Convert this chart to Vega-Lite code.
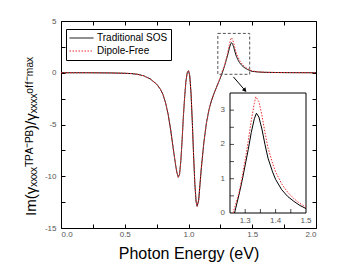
{
  "$schema": "https://vega.github.io/schema/vega-lite/v6.json",
  "width": 255,
  "height": 207,
  "autosize": "none",
  "padding": {"left": 61, "top": 21, "right": 23, "bottom": 44},
  "background": "white",
  "config": {
    "view": {"stroke": null},
    "font": "Liberation Sans",
    "axis": {
      "grid": false,
      "domainColor": "black",
      "domainWidth": 1,
      "tickColor": "black",
      "tickSize": -4,
      "labelFont": "Liberation Sans",
      "labelFontSize": 8,
      "labelColor": "#555555",
      "titleFont": "Liberation Sans",
      "titleFontWeight": "normal",
      "titleColor": "black"
    }
  },
  "datasets": {
    "curves": [
      {"E": 0.0, "v": 0, "s": "Traditional SOS"},
      {"E": 0.2, "v": 0, "s": "Traditional SOS"},
      {"E": 0.4, "v": -0.02, "s": "Traditional SOS"},
      {"E": 0.5, "v": -0.05, "s": "Traditional SOS"},
      {"E": 0.55, "v": -0.08, "s": "Traditional SOS"},
      {"E": 0.6, "v": -0.15, "s": "Traditional SOS"},
      {"E": 0.65, "v": -0.3, "s": "Traditional SOS"},
      {"E": 0.7, "v": -0.6, "s": "Traditional SOS"},
      {"E": 0.75, "v": -1.1, "s": "Traditional SOS"},
      {"E": 0.78, "v": -1.6, "s": "Traditional SOS"},
      {"E": 0.8, "v": -2.1, "s": "Traditional SOS"},
      {"E": 0.82, "v": -2.9, "s": "Traditional SOS"},
      {"E": 0.84, "v": -4.0, "s": "Traditional SOS"},
      {"E": 0.86, "v": -5.5, "s": "Traditional SOS"},
      {"E": 0.88, "v": -7.3, "s": "Traditional SOS"},
      {"E": 0.9, "v": -9.0, "s": "Traditional SOS"},
      {"E": 0.91, "v": -9.7, "s": "Traditional SOS"},
      {"E": 0.92, "v": -10.1, "s": "Traditional SOS"},
      {"E": 0.93, "v": -9.8, "s": "Traditional SOS"},
      {"E": 0.94, "v": -8.5, "s": "Traditional SOS"},
      {"E": 0.95, "v": -6.5, "s": "Traditional SOS"},
      {"E": 0.96, "v": -4.2, "s": "Traditional SOS"},
      {"E": 0.97, "v": -2.3, "s": "Traditional SOS"},
      {"E": 0.98, "v": -0.8, "s": "Traditional SOS"},
      {"E": 0.99, "v": 0.0, "s": "Traditional SOS"},
      {"E": 1.0, "v": 0.2, "s": "Traditional SOS"},
      {"E": 1.01, "v": -0.3, "s": "Traditional SOS"},
      {"E": 1.02, "v": -2.0, "s": "Traditional SOS"},
      {"E": 1.03, "v": -4.8, "s": "Traditional SOS"},
      {"E": 1.04, "v": -8.0, "s": "Traditional SOS"},
      {"E": 1.05, "v": -10.8, "s": "Traditional SOS"},
      {"E": 1.06, "v": -12.5, "s": "Traditional SOS"},
      {"E": 1.068, "v": -12.9, "s": "Traditional SOS"},
      {"E": 1.08, "v": -12.3, "s": "Traditional SOS"},
      {"E": 1.09, "v": -10.8, "s": "Traditional SOS"},
      {"E": 1.1, "v": -9.3, "s": "Traditional SOS"},
      {"E": 1.12, "v": -6.8, "s": "Traditional SOS"},
      {"E": 1.14, "v": -4.9, "s": "Traditional SOS"},
      {"E": 1.16, "v": -3.6, "s": "Traditional SOS"},
      {"E": 1.18, "v": -2.7, "s": "Traditional SOS"},
      {"E": 1.2, "v": -2.0, "s": "Traditional SOS"},
      {"E": 1.22, "v": -1.4, "s": "Traditional SOS"},
      {"E": 1.24, "v": -0.8, "s": "Traditional SOS"},
      {"E": 1.25, "v": -0.5, "s": "Traditional SOS"},
      {"E": 1.265, "v": 0, "s": "Traditional SOS"},
      {"E": 1.28, "v": 0.55, "s": "Traditional SOS"},
      {"E": 1.29, "v": 0.95, "s": "Traditional SOS"},
      {"E": 1.3, "v": 1.4, "s": "Traditional SOS"},
      {"E": 1.31, "v": 1.85, "s": "Traditional SOS"},
      {"E": 1.32, "v": 2.35, "s": "Traditional SOS"},
      {"E": 1.33, "v": 2.75, "s": "Traditional SOS"},
      {"E": 1.337, "v": 2.91, "s": "Traditional SOS"},
      {"E": 1.345, "v": 2.8, "s": "Traditional SOS"},
      {"E": 1.355, "v": 2.45, "s": "Traditional SOS"},
      {"E": 1.365, "v": 2.0, "s": "Traditional SOS"},
      {"E": 1.375, "v": 1.6, "s": "Traditional SOS"},
      {"E": 1.39, "v": 1.2, "s": "Traditional SOS"},
      {"E": 1.4, "v": 0.98, "s": "Traditional SOS"},
      {"E": 1.42, "v": 0.68, "s": "Traditional SOS"},
      {"E": 1.44, "v": 0.48, "s": "Traditional SOS"},
      {"E": 1.46, "v": 0.34, "s": "Traditional SOS"},
      {"E": 1.48, "v": 0.22, "s": "Traditional SOS"},
      {"E": 1.5, "v": 0.13, "s": "Traditional SOS"},
      {"E": 1.55, "v": 0.07, "s": "Traditional SOS"},
      {"E": 1.6, "v": 0.04, "s": "Traditional SOS"},
      {"E": 1.7, "v": 0.02, "s": "Traditional SOS"},
      {"E": 1.8, "v": 0.01, "s": "Traditional SOS"},
      {"E": 2.0, "v": 0.0, "s": "Traditional SOS"},
      {"E": 0.0, "v": 0, "s": "Dipole-Free"},
      {"E": 0.2, "v": 0, "s": "Dipole-Free"},
      {"E": 0.4, "v": -0.02, "s": "Dipole-Free"},
      {"E": 0.5, "v": -0.05, "s": "Dipole-Free"},
      {"E": 0.55, "v": -0.08, "s": "Dipole-Free"},
      {"E": 0.6, "v": -0.15, "s": "Dipole-Free"},
      {"E": 0.65, "v": -0.3, "s": "Dipole-Free"},
      {"E": 0.7, "v": -0.6, "s": "Dipole-Free"},
      {"E": 0.75, "v": -1.1, "s": "Dipole-Free"},
      {"E": 0.78, "v": -1.6, "s": "Dipole-Free"},
      {"E": 0.8, "v": -2.1, "s": "Dipole-Free"},
      {"E": 0.82, "v": -2.9, "s": "Dipole-Free"},
      {"E": 0.84, "v": -4.0, "s": "Dipole-Free"},
      {"E": 0.86, "v": -5.5, "s": "Dipole-Free"},
      {"E": 0.88, "v": -7.3, "s": "Dipole-Free"},
      {"E": 0.9, "v": -9.0, "s": "Dipole-Free"},
      {"E": 0.91, "v": -9.7, "s": "Dipole-Free"},
      {"E": 0.92, "v": -10.1, "s": "Dipole-Free"},
      {"E": 0.93, "v": -9.8, "s": "Dipole-Free"},
      {"E": 0.94, "v": -8.5, "s": "Dipole-Free"},
      {"E": 0.95, "v": -6.5, "s": "Dipole-Free"},
      {"E": 0.96, "v": -4.2, "s": "Dipole-Free"},
      {"E": 0.97, "v": -2.3, "s": "Dipole-Free"},
      {"E": 0.98, "v": -0.8, "s": "Dipole-Free"},
      {"E": 0.99, "v": 0.0, "s": "Dipole-Free"},
      {"E": 1.0, "v": 0.2, "s": "Dipole-Free"},
      {"E": 1.01, "v": -0.3, "s": "Dipole-Free"},
      {"E": 1.02, "v": -2.0, "s": "Dipole-Free"},
      {"E": 1.03, "v": -4.8, "s": "Dipole-Free"},
      {"E": 1.04, "v": -8.0, "s": "Dipole-Free"},
      {"E": 1.05, "v": -10.8, "s": "Dipole-Free"},
      {"E": 1.06, "v": -12.5, "s": "Dipole-Free"},
      {"E": 1.068, "v": -12.9, "s": "Dipole-Free"},
      {"E": 1.08, "v": -12.3, "s": "Dipole-Free"},
      {"E": 1.09, "v": -10.8, "s": "Dipole-Free"},
      {"E": 1.1, "v": -9.3, "s": "Dipole-Free"},
      {"E": 1.12, "v": -6.8, "s": "Dipole-Free"},
      {"E": 1.14, "v": -4.9, "s": "Dipole-Free"},
      {"E": 1.16, "v": -3.6, "s": "Dipole-Free"},
      {"E": 1.18, "v": -2.7, "s": "Dipole-Free"},
      {"E": 1.2, "v": -2.0, "s": "Dipole-Free"},
      {"E": 1.22, "v": -1.4, "s": "Dipole-Free"},
      {"E": 1.24, "v": -0.75, "s": "Dipole-Free"},
      {"E": 1.25, "v": -0.4, "s": "Dipole-Free"},
      {"E": 1.26, "v": 0, "s": "Dipole-Free"},
      {"E": 1.28, "v": 0.6, "s": "Dipole-Free"},
      {"E": 1.29, "v": 1.05, "s": "Dipole-Free"},
      {"E": 1.3, "v": 1.55, "s": "Dipole-Free"},
      {"E": 1.31, "v": 2.1, "s": "Dipole-Free"},
      {"E": 1.32, "v": 2.7, "s": "Dipole-Free"},
      {"E": 1.33, "v": 3.2, "s": "Dipole-Free"},
      {"E": 1.335, "v": 3.39, "s": "Dipole-Free"},
      {"E": 1.345, "v": 3.25, "s": "Dipole-Free"},
      {"E": 1.355, "v": 2.85, "s": "Dipole-Free"},
      {"E": 1.365, "v": 2.35, "s": "Dipole-Free"},
      {"E": 1.375, "v": 1.9, "s": "Dipole-Free"},
      {"E": 1.39, "v": 1.45, "s": "Dipole-Free"},
      {"E": 1.4, "v": 1.2, "s": "Dipole-Free"},
      {"E": 1.42, "v": 0.85, "s": "Dipole-Free"},
      {"E": 1.44, "v": 0.6, "s": "Dipole-Free"},
      {"E": 1.46, "v": 0.42, "s": "Dipole-Free"},
      {"E": 1.48, "v": 0.28, "s": "Dipole-Free"},
      {"E": 1.5, "v": 0.17, "s": "Dipole-Free"},
      {"E": 1.55, "v": 0.08, "s": "Dipole-Free"},
      {"E": 1.6, "v": 0.05, "s": "Dipole-Free"},
      {"E": 1.7, "v": 0.02, "s": "Dipole-Free"},
      {"E": 1.8, "v": 0.01, "s": "Dipole-Free"},
      {"E": 2.0, "v": 0.0, "s": "Dipole-Free"}
    ],
    "frame": [{"x": 1.25, "x2": 1.5, "y": 0, "y2": 3.5}],
    "zoombox": [{"x": 1.23, "x2": 1.48, "y": -0.15, "y2": 3.8}],
    "arrow": [{"x": 1.352, "y": -0.4, "x2": 1.443, "y2": -1.7}],
    "insetYTicks": [{"t": 0.5}, {"t": 1}, {"t": 1.5}, {"t": 2}, {"t": 2.5}, {"t": 3}],
    "insetXTicks": [{"t": 1.3}, {"t": 1.35}, {"t": 1.4}, {"t": 1.45}],
    "insetYLabels": [{"t": 0, "l": "0"}, {"t": 1, "l": "1"}, {"t": 2, "l": "2"}, {"t": 3, "l": "3"}],
    "insetXLabels": [{"t": 1.3, "l": "1.3"}, {"t": 1.4, "l": "1.4"}, {"t": 1.5, "l": "1.5"}]
  },
  "layer": [
    {
      "data": {"name": "curves"},
      "transform": [{"filter": "datum.s === 'Traditional SOS'"}],
      "mark": {"type": "line", "strokeWidth": 1},
      "encoding": {
        "x": {"field": "E", "type": "quantitative", "scale": {"domain": [0, 2]},
          "axis": {"orient": "bottom", "values": [0, 0.25, 0.5, 0.75, 1, 1.25, 1.5, 1.75, 2],
            "labelExpr": "abs(datum.value*2 - round(datum.value*2)) < 0.001 ? format(datum.value, '.1f') : ''",
            "labelPadding": 6, "title": "Photon Energy   (eV)", "titleFontSize": 16,
            "titleBaseline": "alphabetic", "titleY": 30}},
        "y": {"field": "v", "type": "quantitative", "scale": {"domain": [-15, 5]},
          "axis": {"orient": "left", "values": [-15, -12.5, -10, -7.5, -5, -2.5, 0, 2.5, 5],
            "labelExpr": "datum.value % 5 === 0 ? '' + datum.value : ''",
            "labelPadding": 9,
            "title": "Im(γₓₓₓₓᵀᴾᴬ⁻ᴾᴮ)/γₓₓₓₓᵒᶠᶠ⁻ᵐᵃˣ", "titleFontSize": 15,
            "titleAngle": -90, "titleAlign": "center", "titleBaseline": "alphabetic",
            "titleX": -26, "titleY": 115}},
        "color": {"field": "s", "type": "nominal",
          "scale": {"domain": ["Traditional SOS", "Dipole-Free"], "range": ["#000000", "#ee2a2a"]},
          "legend": {"title": null, "orient": "none", "legendX": 5, "legendY": 8,
            "strokeColor": "black", "fillColor": "white", "padding": 3,
            "symbolType": "stroke", "symbolSize": 576, "clipHeight": 12, "symbolStrokeWidth": 1,
            "labelFontSize": 10, "labelColor": "black", "labelFont": "Liberation Sans",
            "labelOffset": 3, "rowPadding": 1}},
        "strokeDash": {"field": "s", "type": "nominal",
          "scale": {"domain": ["Traditional SOS", "Dipole-Free"], "range": [[1, 0], [1.5, 1.5]]},
          "legend": {"title": null, "orient": "none", "legendX": 5, "legendY": 8,
            "strokeColor": "black", "fillColor": "white", "padding": 3,
            "symbolType": "stroke", "symbolSize": 576, "clipHeight": 12, "symbolStrokeWidth": 1,
            "labelFontSize": 10, "labelColor": "black", "labelFont": "Liberation Sans",
            "labelOffset": 3, "rowPadding": 1}}
      }
    },
    {
      "data": {"name": "curves"},
      "transform": [{"filter": "datum.s === 'Dipole-Free'"}],
      "mark": {"type": "line", "strokeWidth": 1},
      "encoding": {
        "x": {"field": "E", "type": "quantitative", "scale": {"domain": [0, 2]}, "axis": null},
        "y": {"field": "v", "type": "quantitative", "scale": {"domain": [-15, 5]}, "axis": null},
        "color": {"field": "s", "type": "nominal",
          "scale": {"domain": ["Traditional SOS", "Dipole-Free"], "range": ["#000000", "#ee2a2a"]}},
        "strokeDash": {"field": "s", "type": "nominal",
          "scale": {"domain": ["Traditional SOS", "Dipole-Free"], "range": [[1, 0], [1.5, 1.5]]}}
      }
    },
    {
      "data": {"name": "zoombox"},
      "mark": {"type": "rect", "fill": null, "fillOpacity": 0, "stroke": "#555555", "strokeWidth": 1, "strokeDash": [3, 2]},
      "encoding": {
        "x": {"field": "x", "type": "quantitative", "scale": {"domain": [0, 2]}, "axis": null},
        "x2": {"field": "x2"},
        "y": {"field": "y", "type": "quantitative", "scale": {"domain": [-15, 5]}, "axis": null},
        "y2": {"field": "y2"}
      }
    },
    {
      "data": {"name": "arrow"},
      "mark": {"type": "rule", "color": "black", "strokeWidth": 1},
      "encoding": {
        "x": {"field": "x", "type": "quantitative", "scale": {"domain": [0, 2]}, "axis": null},
        "x2": {"field": "x2"},
        "y": {"field": "y", "type": "quantitative", "scale": {"domain": [-15, 5]}, "axis": null},
        "y2": {"field": "y2"}
      }
    },
    {
      "data": {"name": "arrow"},
      "mark": {"type": "point", "shape": "triangle-down", "filled": true, "color": "black", "size": 22, "angle": 319, "opacity": 1},
      "encoding": {
        "x": {"field": "x2", "type": "quantitative", "scale": {"domain": [0, 2]}, "axis": null},
        "y": {"field": "y2", "type": "quantitative", "scale": {"domain": [-15, 5]}, "axis": null}
      }
    },
    {
      "data": {"name": "frame"},
      "mark": {"type": "point", "opacity": 0},
      "encoding": {
        "x": {"field": "x", "type": "quantitative", "scale": {"domain": [0, 2]},
          "axis": {"orient": "top", "values": [0, 0.25, 0.5, 0.75, 1, 1.25, 1.5, 1.75, 2], "labels": false, "title": null}},
        "y": {"field": "y", "type": "quantitative", "scale": {"domain": [-15, 5]},
          "axis": {"orient": "right", "values": [-15, -12.5, -10, -7.5, -5, -2.5, 0, 2.5, 5], "labels": false, "title": null}}
      }
    },
    {
      "data": {"name": "frame"},
      "mark": {"type": "rect", "fill": "white", "stroke": "black", "strokeWidth": 1},
      "encoding": {
        "x": {"field": "x", "type": "quantitative", "scale": {"domain": [1.25, 1.5], "range": [169, 245]}, "axis": null},
        "x2": {"field": "x2"},
        "y": {"field": "y", "type": "quantitative", "scale": {"domain": [0, 3.5], "range": [192, 72]}, "axis": null},
        "y2": {"field": "y2"}
      }
    },
    {
      "data": {"name": "insetYTicks"},
      "mark": {"type": "tick", "orient": "horizontal", "color": "black", "size": 4, "thickness": 1, "xOffset": 2},
      "encoding": {
        "x": {"datum": 1.25, "type": "quantitative", "scale": {"domain": [1.25, 1.5], "range": [169, 245]}, "axis": null},
        "y": {"field": "t", "type": "quantitative", "scale": {"domain": [0, 3.5], "range": [192, 72]}, "axis": null}
      }
    },
    {
      "data": {"name": "insetXTicks"},
      "mark": {"type": "tick", "orient": "vertical", "color": "black", "size": 4, "thickness": 1, "yOffset": -2},
      "encoding": {
        "x": {"field": "t", "type": "quantitative", "scale": {"domain": [1.25, 1.5], "range": [169, 245]}, "axis": null},
        "y": {"datum": 0, "type": "quantitative", "scale": {"domain": [0, 3.5], "range": [192, 72]}, "axis": null}
      }
    },
    {
      "data": {"name": "insetYLabels"},
      "mark": {"type": "text", "align": "right", "baseline": "middle", "dx": -5, "fontSize": 8, "color": "#555555", "font": "Liberation Sans"},
      "encoding": {
        "x": {"datum": 1.25, "type": "quantitative", "scale": {"domain": [1.25, 1.5], "range": [169, 245]}, "axis": null},
        "y": {"field": "t", "type": "quantitative", "scale": {"domain": [0, 3.5], "range": [192, 72]}, "axis": null},
        "text": {"field": "l"}
      }
    },
    {
      "data": {"name": "insetXLabels"},
      "mark": {"type": "text", "align": "center", "baseline": "top", "dy": 4, "fontSize": 8, "color": "#555555", "font": "Liberation Sans"},
      "encoding": {
        "x": {"field": "t", "type": "quantitative", "scale": {"domain": [1.25, 1.5], "range": [169, 245]}, "axis": null},
        "y": {"datum": 0, "type": "quantitative", "scale": {"domain": [0, 3.5], "range": [192, 72]}, "axis": null},
        "text": {"field": "l"}
      }
    },
    {
      "data": {"name": "curves"},
      "transform": [{"filter": "datum.s === 'Traditional SOS' && datum.E >= 1.25 && datum.E <= 1.5 && datum.v >= 0"}],
      "mark": {"type": "line", "strokeWidth": 1, "color": "black"},
      "encoding": {
        "x": {"field": "E", "type": "quantitative", "scale": {"domain": [1.25, 1.5], "range": [169, 245]}, "axis": null},
        "y": {"field": "v", "type": "quantitative", "scale": {"domain": [0, 3.5], "range": [192, 72]}, "axis": null}
      }
    },
    {
      "data": {"name": "curves"},
      "transform": [{"filter": "datum.s === 'Dipole-Free' && datum.E >= 1.25 && datum.E <= 1.5 && datum.v >= 0"}],
      "mark": {"type": "line", "strokeWidth": 1, "color": "#ee2a2a", "strokeDash": [1.5, 1.5]},
      "encoding": {
        "x": {"field": "E", "type": "quantitative", "scale": {"domain": [1.25, 1.5], "range": [169, 245]}, "axis": null},
        "y": {"field": "v", "type": "quantitative", "scale": {"domain": [0, 3.5], "range": [192, 72]}, "axis": null}
      }
    }
  ],
  "resolve": {"scale": {"x": "independent", "y": "independent"}}
}
